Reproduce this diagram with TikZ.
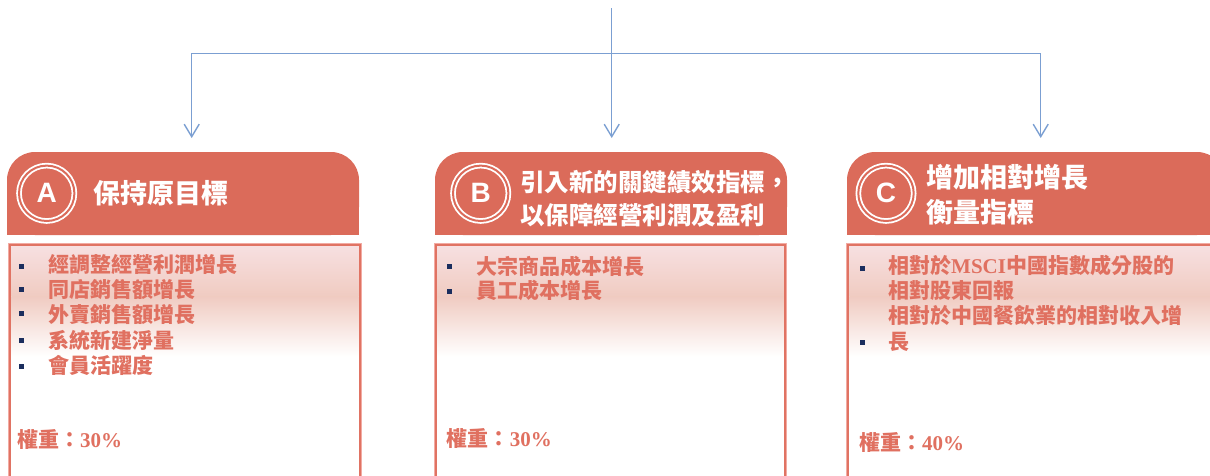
\documentclass[tikz,border=0pt]{standalone}
\usepackage{fontspec}
\setmainfont{Liberation Serif}
\newfontfamily\cjk{Noto Sans CJK TC}
\newfontfamily\sansfam{Liberation Sans}
\usetikzlibrary{arrows.meta,calc}
\definecolor{hdr}{HTML}{DB6B5A}
\definecolor{txt}{HTML}{E07060}
\definecolor{bord}{HTML}{E07363}
\definecolor{bordout}{HTML}{F2ABA3}
\definecolor{gtop}{HTML}{F7E0E1}
\definecolor{gmid}{HTML}{F0CBC1}
\definecolor{navy}{HTML}{1B2E5E}
\definecolor{connc}{HTML}{7B9FD2}
\tikzset{
  hdrbox/.style={rectangle, rounded corners=28pt, fill=hdr, inner sep=0pt, minimum height=83pt},
  badge/.style={circle, draw=white, line width=1.8pt, double=hdr, double distance=2pt,
    minimum size=55.4pt, inner sep=0pt, text=white,
    font=\sansfam\bfseries\fontsize{28}{28}\selectfont},
  ttl/.style={anchor=west, text=white, inner sep=0pt, text height=23.8pt, text depth=3.2pt,
    font=\cjk\bfseries\fontsize{27}{33}\selectfont},
  ttlb/.style={ttl, text height=21.6pt, text depth=2.9pt, font=\cjk\bfseries\fontsize{24.5}{30}\selectfont},
  item/.style={anchor=west, text=txt, inner sep=0pt, text height=18.5pt, text depth=2.5pt,
    font=\cjk\bfseries\fontsize{21}{25}\selectfont},
  bul/.style={rectangle, fill=navy, minimum size=5pt, inner sep=0pt},
  bodybox/.style={rectangle, inner sep=0pt, outer sep=0pt, fill=white, minimum height=249pt},
  gradA/.style={top color=gtop, bottom color=gmid},
  gradB/.style={top color=gmid, bottom color=white},
  border/.style={draw=bord, line width=2pt},
  outline/.style={draw=bordout, line width=1pt},
  connl/.style={draw=connc, line width=1.4pt},
  tip/.style={-{Straight Barb[length=12.5pt,width=15pt]}}
}
\begin{document}
\begin{tikzpicture}[x=1pt,y=-1pt]
\useasboundingbox (0,0) rectangle (1210,475);

% connectors
\coordinate (top) at (611.7,8);
\coordinate (split) at (611.7,53.5);
\coordinate (tA) at (191.7,138);
\coordinate (tB) at (611.7,138);
\coordinate (tC) at (1040.7,138);
\draw[connl] (top) -- (split);
\draw[connl,tip] (split) -- (tB);
\draw[connl,tip] (split) -| (tA);
\draw[connl,tip] (split) -| (tC);

% headers
\node[hdrbox, minimum width=352pt] (hA) at (183,193.5) {};
\fill[hdr] (hA.west) rectangle (hA.south east);
\node[hdrbox, minimum width=352pt] (hB) at (611,193.5) {};
\fill[hdr] (hB.west) rectangle (hB.south east);
\node[hdrbox, minimum width=378pt] (hC) at (1036,193.5) {};
\fill[hdr] (hC.west) rectangle (hC.south east);

% badges
\node[badge] (cA) at (46.7,193.3) {A};
\node[badge] (cB) at (480.7,193.3) {B};
\node[badge] (cC) at (886,193.3) {C};

% titles
\node[ttl] (tiA) at (93,193) {保持原目標};
\node[ttlb] (tiB1) at (520,181.7) {引入新的關鍵績效指標，};
\node[ttlb] (tiB2) at (520,215) {以保障經營利潤及盈利};
\node[ttl] (tiC1) at (926,177) {增加相對增長};
\node[ttl] (tiC2) at (926,212) {衡量指標};

% bodies
\node[bodybox, minimum width=349.4pt] (bA) at (185,369) {};
\node[bodybox, minimum width=349.5pt] (bB) at (610.7,369) {};
\node[bodybox, minimum width=376.7pt] (bC) at (1036.6,369) {};
\foreach \b in {bA,bB,bC}{
  \shade[gradA] ([xshift=1pt,yshift=-1pt]\b.north west) rectangle ([xshift=-1pt,yshift=-52pt]\b.north east);
  \shade[gradB] ([xshift=1pt,yshift=-52pt]\b.north west) rectangle ([xshift=-1pt,yshift=-112pt]\b.north east);
  \draw[border] (\b.north west) rectangle (\b.south east);
  \draw[outline] ([xshift=-1.5pt,yshift=1.5pt]\b.north west) rectangle ([xshift=1.5pt,yshift=-1.5pt]\b.south east);
}

% items A
\node[bul] (uA1) at (21.7,266) {};
\node[bul] (uA2) at (21.7,289.5) {};
\node[bul] (uA3) at (21.7,313.5) {};
\node[bul] (uA4) at (21.7,340.5) {};
\node[bul] (uA5) at (21.7,366) {};
\node[item] (iA1) at (48,264) {經調整經營利潤增長};
\node[item] (iA2) at (48,289.5) {同店銷售額增長};
\node[item] (iA3) at (48,314.5) {外賣銷售額增長};
\node[item] (iA4) at (48,340) {系統新建淨量};
\node[item] (iA5) at (48,365.5) {會員活躍度};
\node[item] (wA) at (17,439.5) {權重：{\rmfamily 30\%}};

% items B
\node[bul] (uB1) at (449.3,266) {};
\node[bul] (uB2) at (449.3,291) {};
\node[item] (iB1) at (476,266) {大宗商品成本增長};
\node[item] (iB2) at (476,290.5) {員工成本增長};
\node[item] (wB) at (446.7,438) {權重：{\rmfamily 30\%}};

% items C
\node[bul] (uC1) at (862.7,268.3) {};
\node[bul] (uC2) at (862.7,342.3) {};
\node[item] (iC1) at (888,265) {相對於{\rmfamily MSCI}中國指數成分股的};
\node[item] (iC2) at (888,290) {相對股東回報};
\node[item] (iC3) at (888,315) {相對於中國餐飲業的相對收入增};
\node[item] (iC4) at (888,341.7) {長};
\node[item] (wC) at (859,442) {權重：{\rmfamily 40\%}};
\end{tikzpicture}
\end{document}
